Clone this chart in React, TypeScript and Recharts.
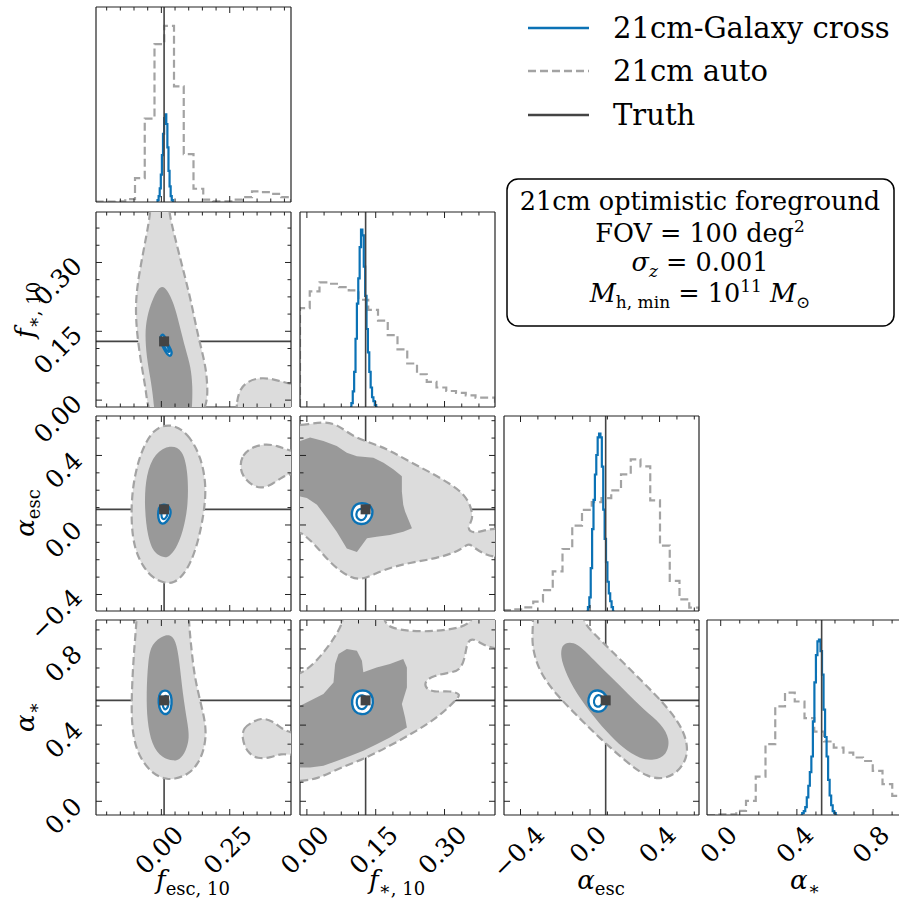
import React from 'react';
import { ComposedChart, XAxis, YAxis, Scatter, Line, ReferenceLine } from 'recharts';

const FONT = '"DejaVu Serif", serif';
const BLUE = '#0b72b5';
const GREY = '#a3a3a3';
const LIGHT = '#dcdcdc';
const DARK = '#999999';
const TRUTH = '#444444';

// axis limits of the four parameters
const fescRange = [-0.239, 0.474];
const fstarRange = [-0.015, 0.41];
const aescRange = [-0.495, 0.627];
const astarRange = [-0.072, 0.952];

// true values
const truthFesc = 0.01;
const truthFstar = 0.128;
const truthAesc = 0.09;
const truthAstar = 0.53;

// ticks (major + minor) and labelled major ticks
const fescTicks = [-0.2, -0.15, -0.1, -0.05, 0, 0.05, 0.1, 0.15, 0.2, 0.25, 0.3, 0.35, 0.4, 0.45];
const fescLabels: [number, string][] = [[0, '0.00'], [0.25, '0.25']];
const fstarTicks = [0, 0.0375, 0.075, 0.1125, 0.15, 0.1875, 0.225, 0.2625, 0.3, 0.3375, 0.375];
const fstarLabels: [number, string][] = [[0, '0.00'], [0.15, '0.15'], [0.3, '0.30']];
const aescTicks = [-0.4, -0.3, -0.2, -0.1, 0, 0.1, 0.2, 0.3, 0.4, 0.5, 0.6];
const aescLabels: [number, string][] = [[-0.4, '−0.4'], [0, '0.0'], [0.4, '0.4']];
const astarTicks = [0, 0.1, 0.2, 0.3, 0.4, 0.5, 0.6, 0.7, 0.8, 0.9];
const astarLabels: [number, string][] = [[0, '0.0'], [0.4, '0.4'], [0.8, '0.8']];

// 1D histograms (heights in % of panel height), 21cm auto uses 20 bins over the axis range
const fescAuto = [0.2, 0.2, 0.3, 1.5, 12.2, 42.8, 81.0, 90.3, 59.3, 24.6, 6.8, 1.2, 0.3, 0.3, 1.2, 2.5, 5.4, 5.1, 4.2, 2.5];
const fstarAuto = [50.7, 59.3, 63.9, 63.2, 61.5, 59.8, 55.0, 49.8, 44.3, 36.9, 29.6, 22.3, 16.8, 12.9, 10.0, 8.2, 7.2, 6.0, 4.8, 4.8];
const aescAuto = [0.5, 0.9, 1.9, 4.8, 10.7, 20.3, 31.8, 43.8, 51.9, 55.8, 57.9, 61.9, 70.1, 77.8, 74.2, 56.7, 33.5, 15.5, 6.0, 1.7];
const astarAuto = [0, 0.3, 0.3, 2.1, 7.2, 19.7, 36.3, 55.7, 62.8, 58.2, 49.7, 42.8, 37.7, 34.6, 32.0, 29.5, 27.7, 22.6, 15.8, 9.8];

// 21cm-Galaxy cross histograms: bin range + heights
const fescCrossRange = [-0.018, 0.046];
const fescCross = [0, 1, 3, 7, 14, 24, 35, 43, 45, 40, 28, 16, 8, 3, 1, 0];
const fstarCrossRange = [0.094, 0.154];
const fstarCross = [0, 2, 8, 18, 35, 53, 66, 82, 91, 88, 72, 57, 40, 28, 18, 10, 5, 3, 1, 0];
const aescCrossRange = [-0.02, 0.14];
const aescCross = [0, 2, 7, 22, 42, 57, 70, 80, 89, 91, 89, 74, 52, 37, 25, 15, 9, 5, 2, 0];
const astarCrossRange = [0.42, 0.612];
const astarCross = [0, 1, 2, 4, 9, 15, 22, 30, 48, 68, 82, 89, 90, 84, 72, 54, 40, 30, 18, 10, 5, 2, 1, 0];

type P = [number, number];

// 2D contours (x, y)
const fescFstarLight: P[] = [[-0.035, 0.46], [-0.04, 0.409], [-0.053, 0.363], [-0.077, 0.29], [-0.096, 0.218], [-0.09, 0.145], [-0.072, 0.0725], [-0.054, 0.015], [-0.045, -0.05], [0.17, -0.05], [0.169, 0.0435], [0.157, 0.087], [0.132, 0.145], [0.108, 0.218], [0.077, 0.29], [0.046, 0.363], [0.028, 0.409], [0.022, 0.46]];
const fescFstarDark: P[] = [[-0.004, 0.252], [-0.034, 0.218], [-0.053, 0.181], [-0.06, 0.145], [-0.054, 0.094], [-0.041, 0.051], [-0.028, 0.0], [-0.024, -0.05], [0.11, -0.05], [0.113, 0.0], [0.114, 0.029], [0.108, 0.0725], [0.089, 0.109], [0.065, 0.167], [0.046, 0.21], [0.021, 0.242]];
const fescFstarLight2: P[] = [[0.272, -0.05], [0.275, 0.0], [0.29, 0.026], [0.315, 0.04], [0.35, 0.048], [0.39, 0.048], [0.43, 0.042], [0.47, 0.036], [0.52, 0.03], [0.52, -0.05]];
const fescFstarBlueOut: P[] = [[0.0, 0.142], [0.009, 0.143], [0.015, 0.134], [0.025, 0.12], [0.035, 0.11], [0.039, 0.101], [0.032, 0.095], [0.021, 0.1], [0.009, 0.112], [-0.001, 0.125], [-0.005, 0.135]];
const fescFstarBlueIn: P[] = [[0.006, 0.133], [0.013, 0.129], [0.022, 0.117], [0.03, 0.108], [0.027, 0.103], [0.018, 0.109], [0.008, 0.121], [0.003, 0.129]];

const fescAescLight: P[] = [[0.033, 0.585], [0.096, 0.532], [0.146, 0.392], [0.166, 0.213], [0.153, 0.039], [0.128, -0.138], [0.09, -0.276], [0.045, -0.338], [0.01, -0.333], [-0.032, -0.306], [-0.068, -0.238], [-0.099, -0.135], [-0.111, 0.019], [-0.107, 0.213], [-0.079, 0.41], [-0.03, 0.555]];
const fescAescDark: P[] = [[0.033, 0.462], [0.078, 0.435], [0.097, 0.31], [0.099, 0.116], [0.079, -0.042], [0.053, -0.14], [0.027, -0.185], [0.008, -0.187], [-0.024, -0.168], [-0.05, -0.078], [-0.063, 0.116], [-0.056, 0.292], [-0.024, 0.415]];
const fescAescLight2: P[] = [[0.287, 0.338], [0.296, 0.402], [0.327, 0.444], [0.376, 0.468], [0.425, 0.456], [0.462, 0.43], [0.52, 0.412], [0.52, 0.298], [0.477, 0.296], [0.444, 0.28], [0.407, 0.234], [0.364, 0.208], [0.325, 0.234], [0.297, 0.283]];
const fescAescBlueOut: P[] = [[0.0, 0.118], [0.021, 0.117], [0.035, 0.09], [0.033, 0.05], [0.019, 0.018], [0.005, 0.003], [-0.009, 0.018], [-0.013, 0.06], [-0.009, 0.1]];
const fescAescBlueIn: P[] = [[0.005, 0.09], [0.02, 0.085], [0.024, 0.06], [0.015, 0.035], [0.004, 0.03], [-0.002, 0.06]];

const fstarAescLight: P[] = [[-0.05, 0.57], [-0.0146, 0.572], [0.036, 0.595], [0.066, 0.58], [0.101, 0.506], [0.145, 0.468], [0.182, 0.428], [0.226, 0.36], [0.27, 0.302], [0.314, 0.234], [0.344, 0.175], [0.359, 0.097], [0.362, 0.029], [0.348, -0.019], [0.363, -0.05], [0.385, -0.031], [0.408, -0.021], [0.45, -0.02], [0.45, -0.19], [0.408, -0.186], [0.385, -0.166], [0.363, -0.128], [0.352, -0.102], [0.334, -0.148], [0.283, -0.193], [0.225, -0.216], [0.167, -0.255], [0.123, -0.318], [0.092, -0.304], [0.049, -0.216], [0.02, -0.118], [-0.005, -0.06], [-0.0146, -0.041], [-0.05, -0.03]];
const fstarAescDark: P[] = [[-0.05, 0.483], [-0.0146, 0.483], [0.007, 0.503], [0.036, 0.483], [0.065, 0.454], [0.087, 0.416], [0.109, 0.396], [0.145, 0.387], [0.167, 0.358], [0.189, 0.319], [0.207, 0.28], [0.207, 0.193], [0.21, 0.116], [0.214, 0.077], [0.229, -0.019], [0.21, -0.039], [0.181, -0.058], [0.152, -0.068], [0.131, -0.077], [0.109, -0.155], [0.087, -0.135], [0.065, -0.039], [0.044, 0.039], [0.022, 0.116], [0.0, 0.155], [-0.0146, 0.164], [-0.05, 0.164]];
const fstarAescBlueOut: P[] = [[0.12, 0.128], [0.136, 0.118], [0.144, 0.09], [0.142, 0.045], [0.132, 0.01], [0.118, 0.002], [0.104, 0.014], [0.097, 0.05], [0.099, 0.092], [0.106, 0.12]];
const fstarAescBlueIn: P[] = [[0.119, 0.095], [0.128, 0.085], [0.131, 0.06], [0.126, 0.032], [0.117, 0.025], [0.109, 0.038], [0.107, 0.065], [0.111, 0.088]];

const fescAstarLight: P[] = [[-0.09, 1.05], [-0.09, 0.949], [-0.098, 0.826], [-0.106, 0.651], [-0.11, 0.475], [-0.104, 0.335], [-0.079, 0.226], [-0.029, 0.138], [0.021, 0.116], [0.045, 0.116], [0.096, 0.138], [0.134, 0.193], [0.159, 0.282], [0.165, 0.387], [0.145, 0.511], [0.121, 0.651], [0.108, 0.826], [0.1, 0.949], [0.1, 1.05]];
const fescAstarDark: P[] = [[0.01, 0.872], [-0.036, 0.83], [-0.049, 0.738], [-0.055, 0.563], [-0.052, 0.423], [-0.036, 0.298], [0.003, 0.225], [0.045, 0.212], [0.066, 0.217], [0.09, 0.262], [0.103, 0.335], [0.096, 0.405], [0.078, 0.563], [0.066, 0.738], [0.053, 0.848], [0.03, 0.875]];
const fescAstarLight2: P[] = [[0.294, 0.335], [0.301, 0.387], [0.327, 0.41], [0.364, 0.44], [0.407, 0.422], [0.444, 0.376], [0.477, 0.359], [0.52, 0.352], [0.52, 0.243], [0.477, 0.243], [0.4375, 0.251], [0.401, 0.23], [0.352, 0.221], [0.312, 0.258]];
const fescAstarBlueOut: P[] = [[0.012, 0.584], [0.03, 0.576], [0.039, 0.54], [0.036, 0.48], [0.022, 0.456], [0.005, 0.458], [-0.009, 0.49], [-0.011, 0.54], [-0.004, 0.574]];
const fescAstarBlueIn: P[] = [[0.014, 0.56], [0.026, 0.545], [0.027, 0.5], [0.016, 0.478], [0.006, 0.49], [0.002, 0.53]];

const fstarAstarLight: P[] = [[-0.05, 0.098], [-0.0146, 0.107], [0.022, 0.116], [0.065, 0.168], [0.123, 0.221], [0.181, 0.291], [0.2395, 0.37], [0.29, 0.449], [0.323, 0.528], [0.3375, 0.563], [0.312, 0.581], [0.276, 0.572], [0.2576, 0.595], [0.2576, 0.633], [0.276, 0.659], [0.312, 0.677], [0.334, 0.686], [0.345, 0.756], [0.348, 0.826], [0.359, 0.861], [0.381, 0.826], [0.408, 0.8], [0.45, 0.8], [0.45, 1.05], [0.37, 1.05], [0.363, 0.94], [0.327, 0.905], [0.254, 0.887], [0.181, 0.905], [0.167, 0.949], [0.163, 1.05], [0.078, 1.05], [0.08, 0.949], [0.069, 0.896], [0.051, 0.826], [0.022, 0.738], [-0.011, 0.668], [-0.05, 0.65]];
const fstarAstarDark: P[] = [[-0.05, 0.502], [-0.0146, 0.502], [0.007, 0.528], [0.036, 0.563], [0.058, 0.624], [0.0616, 0.721], [0.069, 0.774], [0.087, 0.8], [0.109, 0.791], [0.12, 0.738], [0.123, 0.677], [0.152, 0.703], [0.181, 0.721], [0.21, 0.747], [0.218, 0.703], [0.218, 0.598], [0.207, 0.511], [0.214, 0.44], [0.218, 0.387], [0.181, 0.335], [0.152, 0.3], [0.123, 0.265], [0.094, 0.238], [0.065, 0.212], [0.036, 0.186], [0.007, 0.177], [-0.0146, 0.177], [-0.05, 0.177]];
const fstarAstarBlueOut: P[] = [[0.121, 0.584], [0.136, 0.577], [0.145, 0.545], [0.143, 0.49], [0.133, 0.461], [0.118, 0.455], [0.104, 0.468], [0.097, 0.51], [0.1, 0.555], [0.108, 0.576]];
const fstarAstarBlueIn: P[] = [[0.121, 0.56], [0.131, 0.545], [0.133, 0.51], [0.126, 0.485], [0.116, 0.482], [0.109, 0.5], [0.108, 0.535], [0.113, 0.553]];

const aescAstarLight: P[] = [[-0.33, 1.05], [-0.03, 1.05], [-0.048, 0.949], [0.019, 0.883], [0.118, 0.795], [0.253, 0.672], [0.389, 0.549], [0.507, 0.425], [0.56, 0.317], [0.56, 0.227], [0.505, 0.152], [0.425, 0.115], [0.327, 0.126], [0.21, 0.206], [0.056, 0.331], [-0.06, 0.436], [-0.196, 0.561], [-0.297, 0.686], [-0.337, 0.826], [-0.327, 0.918]];
const aescAstarDark: P[] = [[-0.147, 0.835], [-0.075, 0.835], [0.021, 0.742], [0.118, 0.655], [0.215, 0.567], [0.311, 0.479], [0.41, 0.408], [0.462, 0.326], [0.441, 0.24], [0.367, 0.214], [0.288, 0.222], [0.19, 0.278], [0.094, 0.366], [-0.003, 0.471], [-0.1, 0.596], [-0.161, 0.721], [-0.171, 0.795]];
const aescAstarBlueOut: P[] = [[0.045, 0.584], [0.079, 0.574], [0.101, 0.54], [0.099, 0.5], [0.075, 0.473], [0.04, 0.468], [0.004, 0.483], [-0.014, 0.52], [-0.003, 0.562], [0.018, 0.58]];
const aescAstarBlueIn: P[] = [[0.048, 0.562], [0.07, 0.55], [0.075, 0.52], [0.06, 0.497], [0.035, 0.495], [0.02, 0.515], [0.025, 0.545]];

// layout
const colX = [96, 300, 504, 707];
const rowY = [7, 212, 416, 620];
const S = 195;
const LEFTW = 96;
const BOT = 90;
const TOPM = 8;
const RIGHTM = 8;
const TICK_FS = 25;

const toPts = (a: P[]) => a.map(([x, y]) => ({ x, y }));

function stepData(range: number[], counts: number[]) {
  const w = (range[1] - range[0]) / counts.length;
  const pts = counts.map((c, i) => ({ x: range[0] + i * w, y: c }));
  return [{ x: range[0], y: 0 }, ...pts, { x: range[1], y: counts[counts.length - 1] }, { x: range[1], y: 0 }];
}

function labelBox(t: string) {
  let w = 0;
  for (const ch of t) w += ch === '.' ? 0.318 : ch === '−' ? 0.838 : 0.636;
  return (w * TICK_FS + 0.73 * TICK_FS) * 0.7071;
}

function TickMark(props: any) {
  const { x, y, payload, side, majors, labels } = props;
  const v = payload.value;
  const major = majors.some((m: number) => Math.abs(m - v) < 1e-9);
  const len = major ? 6 : 3.5;
  let ln;
  if (side === 'bottom') ln = <line x1={x} y1={y} x2={x} y2={y - len} />;
  else if (side === 'top') ln = <line x1={x} y1={y} x2={x} y2={y + len} />;
  else if (side === 'left') ln = <line x1={x} y1={y} x2={x + len} y2={y} />;
  else ln = <line x1={x} y1={y} x2={x - len} y2={y} />;
  let label = null;
  const lab = labels ? labels.find((l: [number, string]) => Math.abs(l[0] - v) < 1e-9) : undefined;
  if (lab) {
    const bb = labelBox(lab[1]);
    let cx, cy;
    if (side === 'bottom') {
      cx = x - 2;
      cy = y + 9 + bb / 2;
    } else {
      cx = x - 12 - bb / 2;
      cy = y + 0.36 * bb;
    }
    label = (
      <text x={cx} y={cy} textAnchor="middle" dominantBaseline="central" transform={`rotate(-45 ${cx} ${cy})`}
        fontFamily={FONT} fontSize={TICK_FS} fill="#000">{lab[1]}</text>
    );
  }
  return (
    <g>
      <g stroke="#222" strokeWidth={1}>{ln}</g>
      {label}
    </g>
  );
}

type AxisDef = { range: number[]; ticks: number[]; labels: [number, string][] };
const fescAxis: AxisDef = { range: fescRange, ticks: fescTicks, labels: fescLabels };
const fstarAxis: AxisDef = { range: fstarRange, ticks: fstarTicks, labels: fstarLabels };
const aescAxis: AxisDef = { range: aescRange, ticks: aescTicks, labels: aescLabels };
const astarAxis: AxisDef = { range: astarRange, ticks: astarTicks, labels: astarLabels };

const spine = { stroke: '#222', strokeWidth: 1.2 };

function axisSet(xa: AxisDef, ya: AxisDef | null, showX: boolean, showY: boolean) {
  const xm = xa.labels.map((l) => l[0]);
  const els = [
    <XAxis key="xb" xAxisId="b" type="number" dataKey="x" orientation="bottom" domain={xa.range} allowDataOverflow
      ticks={xa.ticks} interval={0} height={BOT} tickSize={0} tickMargin={0} tickLine={false} axisLine={spine}
      tick={<TickMark side="bottom" majors={xm} labels={showX ? xa.labels : null} />} />,
    <XAxis key="xt" xAxisId="t" type="number" dataKey="x" orientation="top" domain={xa.range} allowDataOverflow
      ticks={xa.ticks} interval={0} height={1} tickSize={0} tickMargin={0} tickLine={false} axisLine={spine}
      tick={<TickMark side="top" majors={xm} labels={null} />} />,
  ];
  if (ya) {
    const ym = ya.labels.map((l) => l[0]);
    els.push(
      <YAxis key="yl" yAxisId="l" type="number" dataKey="y" orientation="left" domain={ya.range} allowDataOverflow
        ticks={ya.ticks} interval={0} width={LEFTW} tickSize={0} tickMargin={0} tickLine={false} axisLine={spine}
        tick={<TickMark side="left" majors={ym} labels={showY ? ya.labels : null} />} />,
      <YAxis key="yr" yAxisId="r" type="number" dataKey="y" orientation="right" domain={ya.range} allowDataOverflow
        ticks={ya.ticks} interval={0} width={1} tickSize={0} tickMargin={0} tickLine={false} axisLine={spine}
        tick={<TickMark side="right" majors={ym} labels={null} />} />,
    );
  } else {
    els.push(
      <YAxis key="yl" yAxisId="l" type="number" dataKey="y" orientation="left" domain={[0, 100]} allowDataOverflow
        width={LEFTW} tick={false} tickLine={false} axisLine={spine} />,
      <YAxis key="yr" yAxisId="r" type="number" dataKey="y" orientation="right" domain={[0, 100]} allowDataOverflow
        width={1} tick={false} tickLine={false} axisLine={spine} />,
    );
  }
  return els;
}

const noShape = () => <g />;
const truthSquare = (p: any) => <rect x={p.cx - 5} y={p.cy - 5} width={10} height={10} fill={TRUTH} />;

function region(key: string, pts: P[], fill: string, dashed: boolean, smooth: boolean) {
  return (
    <Scatter key={key} xAxisId="b" yAxisId="l" data={toPts(pts)} shape={noShape} lineType="joint"
      lineJointType={smooth ? 'basisClosed' : 'linearClosed'}
      line={dashed
        ? { fill, stroke: GREY, strokeWidth: 2.2, strokeDasharray: '8 4' }
        : { fill, stroke: 'none' }}
      isAnimationActive={false} />
  );
}

function Wrap({ r, c, children }: { r: number; c: number; children: React.ReactNode }) {
  return (
    <div style={{ position: 'absolute', left: colX[c] - LEFTW, top: rowY[r] - TOPM }}>
      <ComposedChart width={LEFTW + S + RIGHTM} height={TOPM + S + BOT}
        margin={{ top: TOPM - 1, right: RIGHTM - 1, bottom: 0, left: 0 }}>
        {children}
      </ComposedChart>
    </div>
  );
}

function Hist({ r, xa, auto, crossRange, cross, truth }: any) {
  return (
    <Wrap r={r} c={r}>
      {axisSet(xa, null, r === 3, false)}
      <Line xAxisId="b" yAxisId="l" data={stepData(xa.range, auto)} dataKey="y" type="stepAfter" stroke={GREY}
        strokeWidth={2.2} strokeDasharray="8 4" dot={false} isAnimationActive={false} />
      <Line xAxisId="b" yAxisId="l" data={stepData(crossRange, cross)} dataKey="y" type="stepAfter" stroke={BLUE}
        strokeWidth={2.2} dot={false} isAnimationActive={false} />
      <ReferenceLine xAxisId="b" yAxisId="l" x={truth} stroke={TRUTH} strokeWidth={1.6} />
    </Wrap>
  );
}

function Pair({ r, c, xa, ya, light, dark, darkSmooth, extra, blueOut, blueIn, tx, ty }: any) {
  return (
    <Wrap r={r} c={c}>
      {axisSet(xa, ya, r === 3, c === 0)}
      {region('light', light, LIGHT, true, true)}
      {region('dark', dark, DARK, false, darkSmooth)}
      {extra ? region('extra', extra, LIGHT, true, true) : null}
      <Scatter xAxisId="b" yAxisId="l" data={toPts(blueOut)} shape={noShape} lineType="joint" lineJointType="basisClosed"
        line={{ fill: '#ffffff', stroke: BLUE, strokeWidth: 2.4 }} isAnimationActive={false} />
      <Scatter xAxisId="b" yAxisId="l" data={toPts(blueIn)} shape={noShape} lineType="joint" lineJointType="basisClosed"
        line={{ fill: 'none', stroke: BLUE, strokeWidth: 2.2 }} isAnimationActive={false} />
      <ReferenceLine xAxisId="b" yAxisId="l" x={tx} stroke={TRUTH} strokeWidth={1.6} />
      <ReferenceLine xAxisId="b" yAxisId="l" y={ty} stroke={TRUTH} strokeWidth={1.6} />
      <Scatter xAxisId="b" yAxisId="l" data={[{ x: tx, y: ty }]} shape={truthSquare} isAnimationActive={false} />
    </Wrap>
  );
}

function Overlay() {
  const sub = 18;
  return (
    <svg width={899} height={903} style={{ position: 'absolute', left: 0, top: 0, pointerEvents: 'none' }}
      fontFamily={FONT}>
      {/* x labels */}
      <text x={193} y={889} textAnchor="middle" fontSize={26}>
        <tspan fontStyle="italic">f</tspan><tspan fontSize={sub} dy={6}>esc, 10</tspan>
      </text>
      <text x={397} y={889} textAnchor="middle" fontSize={26}>
        <tspan fontStyle="italic">f</tspan><tspan fontSize={sub} dy={6}>∗, 10</tspan>
      </text>
      <text x={601} y={889} textAnchor="middle" fontSize={26}>
        <tspan fontStyle="italic">α</tspan><tspan fontSize={sub} dy={6}>esc</tspan>
      </text>
      <text x={805} y={889} textAnchor="middle" fontSize={26}>
        <tspan fontStyle="italic">α</tspan><tspan fontSize={sub} dy={6}>∗</tspan>
      </text>
      {/* y labels */}
      <text x={34} y={310} textAnchor="middle" fontSize={26} transform="rotate(-90 34 310)">
        <tspan fontStyle="italic">f</tspan><tspan fontSize={sub} dy={6}>∗, 10</tspan>
      </text>
      <text x={34} y={513} textAnchor="middle" fontSize={26} transform="rotate(-90 34 513)">
        <tspan fontStyle="italic">α</tspan><tspan fontSize={sub} dy={6}>esc</tspan>
      </text>
      <text x={34} y={717} textAnchor="middle" fontSize={26} transform="rotate(-90 34 717)">
        <tspan fontStyle="italic">α</tspan><tspan fontSize={sub} dy={6}>∗</tspan>
      </text>
      {/* legend */}
      <line x1={528} y1={28} x2={589} y2={28} stroke={BLUE} strokeWidth={2.5} />
      <line x1={528} y1={71} x2={589} y2={71} stroke={GREY} strokeWidth={2.5} strokeDasharray="8 4" />
      <line x1={528} y1={115} x2={589} y2={115} stroke={TRUTH} strokeWidth={2.5} />
      <text x={613} y={28} dominantBaseline="central" fontSize={29}>21cm-Galaxy cross</text>
      <text x={613} y={71} dominantBaseline="central" fontSize={29}>21cm auto</text>
      <text x={613} y={115} dominantBaseline="central" fontSize={29}>Truth</text>
      {/* text box */}
      <rect x={507} y={179} width={387} height={147} rx={11} fill="#fff" stroke="#000" strokeWidth={1.5} />
      <text x={700} y={210} textAnchor="middle" fontSize={25.5}>21cm optimistic foreground</text>
      <text x={700} y={242} textAnchor="middle" fontSize={25.5}>
        <tspan>FOV = 100 deg</tspan><tspan fontSize={17} dy={-10}>2</tspan>
      </text>
      <text x={700} y={271} textAnchor="middle" fontSize={25.5}>
        <tspan fontStyle="italic">σ</tspan><tspan fontSize={17} fontStyle="italic" dy={6}>z</tspan>
        <tspan dy={-6}> = 0.001</tspan>
      </text>
      <text x={700} y={302} textAnchor="middle" fontSize={25.5}>
        <tspan fontStyle="italic">M</tspan><tspan fontSize={17} dy={6}>h, min</tspan>
        <tspan dy={-6}> = 10</tspan><tspan fontSize={17} dy={-10}>11</tspan>
        <tspan dy={10}> </tspan><tspan fontStyle="italic">M</tspan><tspan fontSize={17} dy={6}>⊙</tspan>
      </text>
    </svg>
  );
}

export default function App() {
  return (
    <div style={{ position: 'absolute', left: 0, top: 0, width: 899, height: 903, overflow: 'hidden', background: '#fff' }}>
      <Hist r={0} xa={fescAxis} auto={fescAuto} crossRange={fescCrossRange} cross={fescCross} truth={truthFesc} />
      <Hist r={1} xa={fstarAxis} auto={fstarAuto} crossRange={fstarCrossRange} cross={fstarCross} truth={truthFstar} />
      <Hist r={2} xa={aescAxis} auto={aescAuto} crossRange={aescCrossRange} cross={aescCross} truth={truthAesc} />
      <Hist r={3} xa={astarAxis} auto={astarAuto} crossRange={astarCrossRange} cross={astarCross} truth={truthAstar} />

      <Pair r={1} c={0} xa={fescAxis} ya={fstarAxis} light={fescFstarLight} dark={fescFstarDark} darkSmooth
        extra={fescFstarLight2} blueOut={fescFstarBlueOut} blueIn={fescFstarBlueIn} tx={truthFesc} ty={truthFstar} />
      <Pair r={2} c={0} xa={fescAxis} ya={aescAxis} light={fescAescLight} dark={fescAescDark} darkSmooth
        extra={fescAescLight2} blueOut={fescAescBlueOut} blueIn={fescAescBlueIn} tx={truthFesc} ty={truthAesc} />
      <Pair r={2} c={1} xa={fstarAxis} ya={aescAxis} light={fstarAescLight} dark={fstarAescDark} darkSmooth={false}
        blueOut={fstarAescBlueOut} blueIn={fstarAescBlueIn} tx={truthFstar} ty={truthAesc} />
      <Pair r={3} c={0} xa={fescAxis} ya={astarAxis} light={fescAstarLight} dark={fescAstarDark} darkSmooth
        extra={fescAstarLight2} blueOut={fescAstarBlueOut} blueIn={fescAstarBlueIn} tx={truthFesc} ty={truthAstar} />
      <Pair r={3} c={1} xa={fstarAxis} ya={astarAxis} light={fstarAstarLight} dark={fstarAstarDark} darkSmooth={false}
        blueOut={fstarAstarBlueOut} blueIn={fstarAstarBlueIn} tx={truthFstar} ty={truthAstar} />
      <Pair r={3} c={2} xa={aescAxis} ya={astarAxis} light={aescAstarLight} dark={aescAstarDark} darkSmooth
        blueOut={aescAstarBlueOut} blueIn={aescAstarBlueIn} tx={truthAesc} ty={truthAstar} />

      <Overlay />
    </div>
  );
}
